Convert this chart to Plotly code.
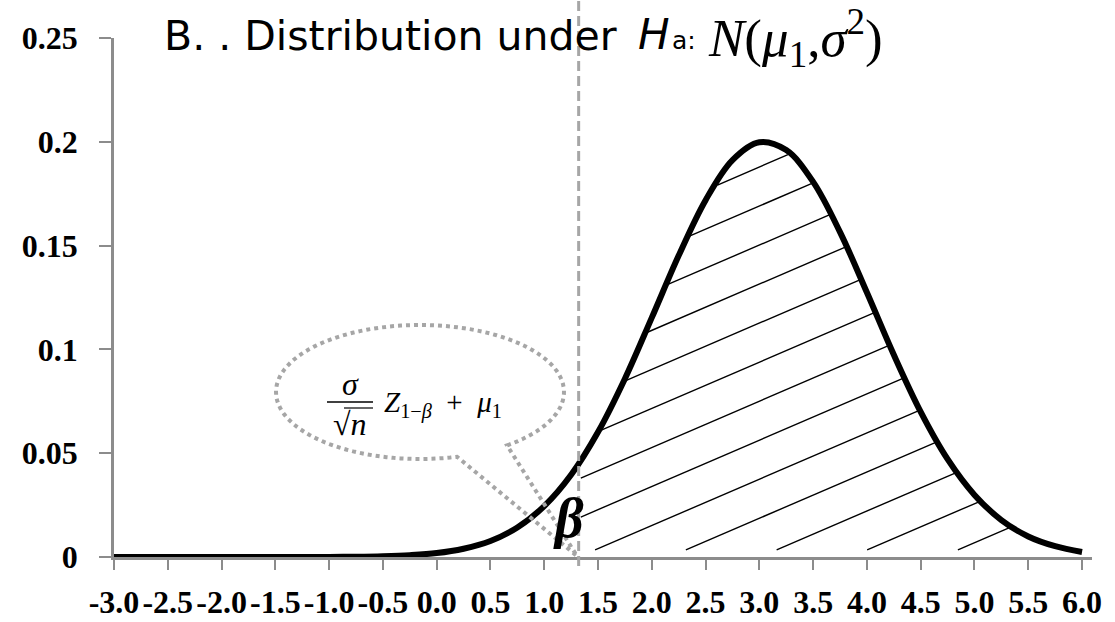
import numpy as np
import plotly.graph_objects as go

# ---------------- data ----------------
x_vals = [-3.0, -2.75, -2.5, -2.25, -2.0, -1.75, -1.5, -1.25, -1.0, -0.75,
          -0.5, -0.25, 0.0, 0.25, 0.5, 0.75, 1.0, 1.25, 1.5, 1.75,
          2.0, 2.25, 2.5, 2.75, 3.0, 3.25, 3.5, 3.75, 4.0, 4.25,
          4.5, 4.75, 5.0, 5.25, 5.5, 5.75, 6.0]
density = [0.0, 0.0, 0.0, 0.0, 0.0, 0.0, 0.00001, 0.00002, 0.00005, 0.00015,
           0.0004, 0.0009, 0.0019, 0.0040, 0.0077, 0.0142, 0.0245, 0.0396, 0.0602, 0.0859,
           0.1153, 0.1452, 0.1719, 0.1912, 0.1998, 0.1960, 0.1807, 0.1565, 0.1274, 0.0974,
           0.0699, 0.0471, 0.0299, 0.0178, 0.0099, 0.0052, 0.0024]
cutoff = 1.32   # sigma/sqrt(n) * Z(1-beta) + mu1

x_ticks = [-3.0, -2.5, -2.0, -1.5, -1.0, -0.5, 0.0, 0.5, 1.0, 1.5,
           2.0, 2.5, 3.0, 3.5, 4.0, 4.5, 5.0, 5.5, 6.0]
x_labels = ["-3.0", "-2.5", "-2.0", "-1.5", "-1.0", "-0.5", "0.0", "0.5", "1.0", "1.5",
            "2.0", "2.5", "3.0", "3.5", "4.0", "4.5", "5.0", "5.5", "6.0"]
y_ticks = [0, 0.05, 0.1, 0.15, 0.2, 0.25]
y_labels = ["0", "0.05", "0.1", "0.15", "0.2", "0.25"]

# ---------------- layout geometry ----------------
W, H = 1115, 622
PL, PR, PT, PB = 114, 1092, 38, 557
X0 = -3.0
XSCALE = 107.56
XMAX = X0 + (PR - PL) / XSCALE
YMAX = 0.25

def px_x(px):
    return X0 + (px - PL) / XSCALE

def py_y(py):
    return (PB - py) / (PB - PT) * YMAX

def paper_x(px):
    return (px - PL) / (PR - PL)

def paper_y(py):
    return (PB - py) / (PB - PT)

GRAY_AX = "#8C8C8C"
GRAY_DEC = "#A6A6A6"

fig = go.Figure()

# ---------------- hatching (derived from the curve data) ----------------
xs = np.array(x_vals)
ys = np.array(density)
grid = np.linspace(cutoff + 0.02, xs[-1], 2000)
curve_g = np.interp(grid, xs, ys)
slope = 0.0223
spacing = 0.0188
floor = 0.0034
hx, hy = [], []
for k in range(-4, 9):
    line = spacing * k + slope * (grid - cutoff)
    ok = (line >= floor) & (line <= curve_g - 0.0012)
    if ok.sum() < 2:
        continue
    idx = np.where(ok)[0]
    breaks = np.where(np.diff(idx) > 1)[0]
    run = idx if len(breaks) == 0 else idx[:breaks[0] + 1]
    a, b = run[0], run[-1]
    hx += [grid[a], grid[b], None]
    hy += [line[a], line[b], None]

fig.add_trace(go.Scatter(x=hx, y=hy, mode="lines",
                         line=dict(color="black", width=1.4),
                         hoverinfo="skip", showlegend=False))

# ---------------- the density curve ----------------
fig.add_trace(go.Scatter(x=x_vals, y=density, mode="lines",
                         line=dict(color="black", width=6, shape="spline", smoothing=1),
                         showlegend=False))

shapes = []
shapes.append(dict(type="line", xref="x", yref="paper",
                   x0=cutoff, x1=cutoff, y0=paper_y(566), y1=paper_y(0),
                   line=dict(color=GRAY_DEC, width=3, dash="10px,5px"), layer="above"))

cx, cy, rx, ry = 420, 392, 144, 67
th = np.radians(np.linspace(52.8, 75.1 - 360, 120))
pts = [(cx + rx * np.cos(t), cy + ry * np.sin(t)) for t in th]
pts.append((577, 556))
path = "M " + " L ".join(f"{px_x(px):.4f},{py_y(py):.5f}" for px, py in pts) + " Z"
shapes.append(dict(type="path", xref="x", yref="y", path=path,
                   line=dict(color=GRAY_DEC, width=4, dash="dot"), layer="above"))

shapes.append(dict(type="line", xref="x", yref="y",
                   x0=px_x(327), x1=px_x(373), y0=py_y(402), y1=py_y(402),
                   line=dict(color="black", width=1.5)))
shapes.append(dict(type="line", xref="x", yref="y",
                   x0=px_x(344), x1=px_x(373), y0=py_y(408), y1=py_y(408),
                   line=dict(color="black", width=1.2)))

annotations = []
def ann(text, px, py, size, family, xanchor="left", yanchor="middle", color="black"):
    annotations.append(dict(text=text, xref="paper", yref="paper",
                            x=paper_x(px), y=paper_y(py), xanchor=xanchor, yanchor=yanchor,
                            showarrow=False, font=dict(size=size, family=family, color=color)))

ann("B. . Distribution under", 162, 36, 41, "DejaVu Sans")
ann("<i>H</i>", 636, 35, 42, "DejaVu Sans")
ann("a:", 670, 40, 25, "DejaVu Sans")
ann("<i>N</i>(<i>μ</i><sub>1</sub>,<i>σ</i><sup>2</sup>)", 706, 38, 53, "Liberation Serif")

ann("<i>σ</i>", 350, 384, 32, "Liberation Serif", xanchor="center")
ann("√<i>n</i>", 350, 424, 32, "Liberation Serif", xanchor="center")
ann("<i>Z</i><sub>1−<i>β</i></sub>  +  <i>μ</i><sub>1</sub>", 382, 404, 29, "Liberation Serif")

ann("<i><b>β</b></i>", 568, 518, 56, "Liberation Serif", xanchor="center")

axis_common = dict(showline=True, linecolor=GRAY_AX, linewidth=2.5,
                   showgrid=False, zeroline=False, automargin=False,
                   ticks="outside", tickwidth=2, tickcolor=GRAY_AX,
                   tickfont=dict(family="Liberation Serif", size=32, color="black", weight="bold"))

fig.update_layout(
    width=W, height=H,
    margin=dict(l=PL, r=W - PR, t=PT, b=H - PB, pad=0),
    plot_bgcolor="white", paper_bgcolor="white",
    showlegend=False,
    shapes=shapes, annotations=annotations,
    xaxis=dict(range=[X0, XMAX], tickmode="array", tickvals=x_ticks, ticktext=x_labels,
               ticklen=10, tickangle=0, ticklabelstandoff=5, **axis_common),
    yaxis=dict(range=[0, YMAX], tickmode="array", tickvals=y_ticks, ticktext=y_labels,
               ticklen=12, ticklabelstandoff=15, **axis_common),
)

fig.write_html("out.html", config={"displayModeBar": False},
               post_script="document.body.style.margin='0';document.body.style.overflow='hidden';")
